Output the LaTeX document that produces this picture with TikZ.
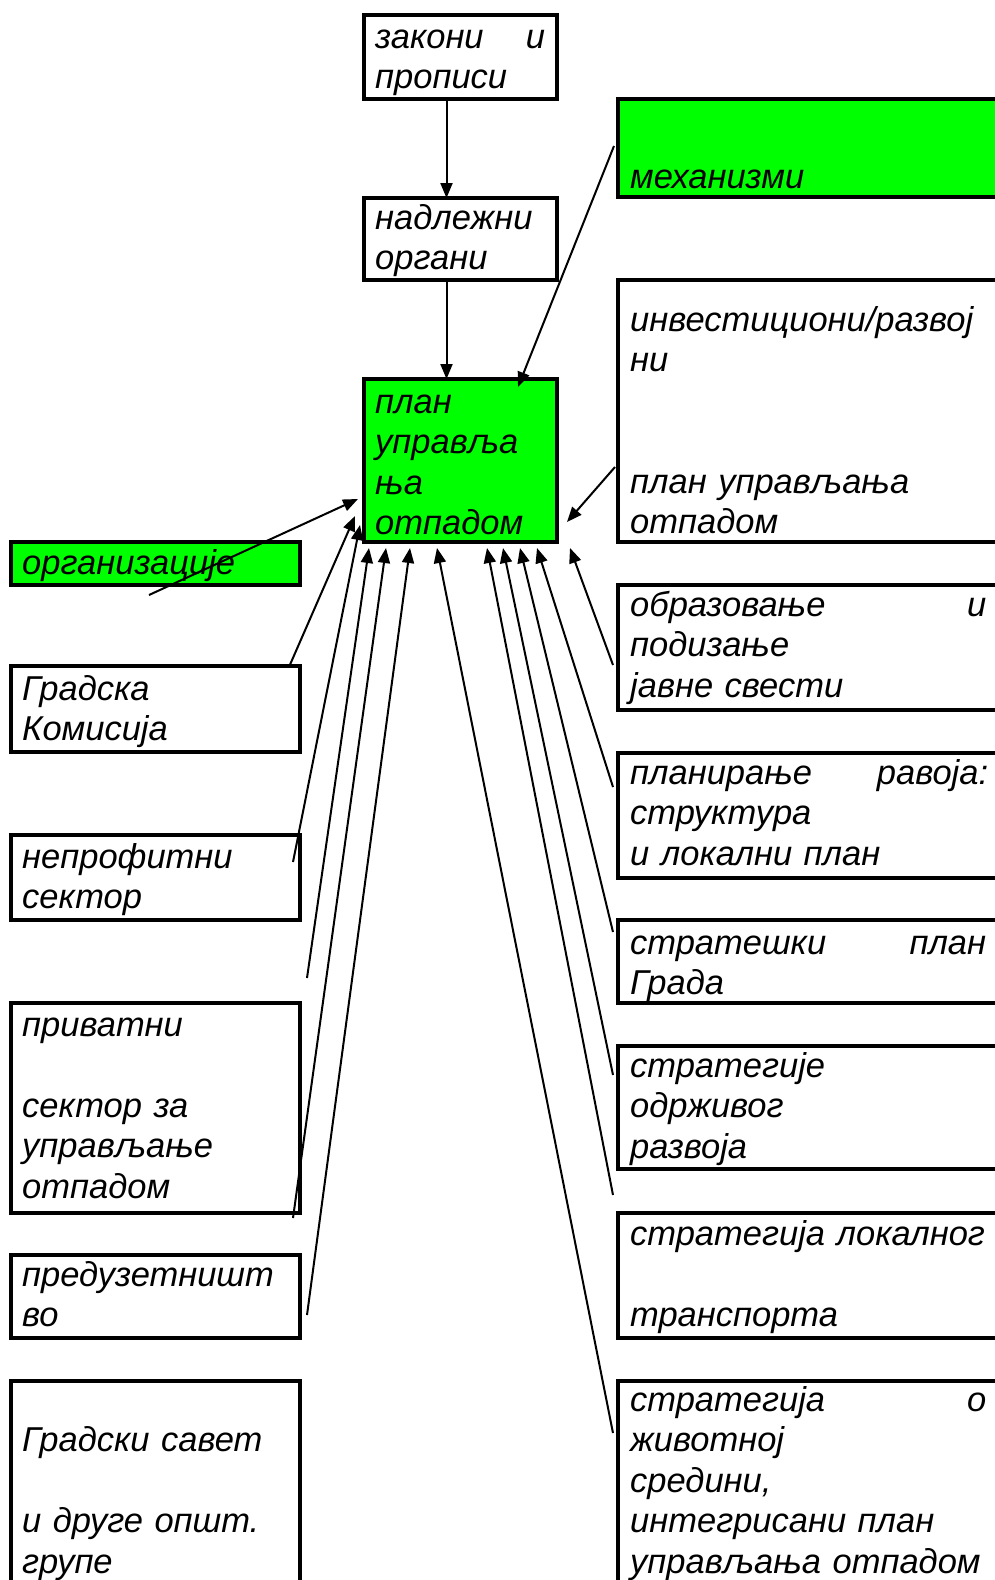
\documentclass[tikz,border=0pt]{standalone}
\usepackage{fontspec}
\setmainfont{Liberation Sans}
\usetikzlibrary{arrows.meta}
\definecolor{boxgreen}{RGB}{0,255,0}
\newcommand{\fl}{\rule{0pt}{30pt}}
\newcommand{\jline}[3]{\hbox to #1{#2\hfill #3}}
\begin{document}
\begin{tikzpicture}[x=1pt,y=-1pt,
  box/.style={draw=black,line width=3.4pt,inner sep=0pt,outer sep=0pt,anchor=north west},
  gbox/.style={box,fill=boxgreen},
  txt/.style={anchor=north west,inner sep=0pt,align=left,font=\fontsize{34.5}{40.5}\selectfont\itshape},
  conn/.style={line width=2pt,-{Triangle[length=15pt,width=12pt]}}]
\useasboundingbox (0,0) rectangle (995,1580);
% boxes: centre column
\node[box,minimum width=193pt,minimum height=84pt] (zak) at (364,15) {};
\node[box,minimum width=193pt,minimum height=82pt] (nad) at (364,198) {};
\node[gbox,minimum width=193pt,minimum height=163pt] (plan) at (364,379) {};
% right column
\node[gbox,minimum width=400pt,minimum height=98pt] (meh) at (618,99) {};
\node[box,minimum width=400pt,minimum height=262pt] (inv) at (618,280) {};
\node[box,minimum width=400pt,minimum height=125pt] (obr) at (618,585) {};
\node[box,minimum width=400pt,minimum height=125pt] (pla) at (618,753) {};
\node[box,minimum width=400pt,minimum height=83pt] (str) at (618,920) {};
\node[box,minimum width=400pt,minimum height=123pt] (odr) at (618,1046) {};
\node[box,minimum width=400pt,minimum height=125pt] (lok) at (618,1213) {};
\node[box,minimum width=400pt,minimum height=230pt] (ziv) at (618,1381) {};
% left column
\node[gbox,minimum width=289pt,minimum height=43pt] (org) at (11,542) {};
\node[box,minimum width=289pt,minimum height=86pt] (gra) at (11,666) {};
\node[box,minimum width=289pt,minimum height=85pt] (nep) at (11,835) {};
\node[box,minimum width=289pt,minimum height=210pt] (pri) at (11,1003) {};
\node[box,minimum width=289pt,minimum height=83pt] (pre) at (11,1255) {};
\node[box,minimum width=289pt,minimum height=230pt] (sav) at (11,1381) {};
% texts
\node[txt,text width=190pt] (tzak) at (375,18) {\fl\jline{170pt}{закони}{и}\\прописи};
\node[txt,text width=190pt] (tnad) at (375,199) {\fl надлежни\\органи};
\node[txt,text width=190pt] (tplan) at (375,383) {\fl план\\управља\\ња\\отпадом};
\node[txt,text width=380pt] (tmeh) at (630,158) {\fl механизми};
\node[txt,text width=380pt] (tinv) at (630,301) {\fl инвестициони/развој\\ни\\\mbox{}\\\mbox{}\\план управљања\\отпадом};
\node[txt,text width=380pt] (tobr) at (630,586) {\fl\jline{356pt}{образовање}{и}\\подизање\\јавне свести};
\node[txt,text width=380pt] (tpla) at (630,754) {\fl\jline{358pt}{планирање}{равоја:}\\структура\\и локални план};
\node[txt,text width=380pt] (tstr) at (630,924) {\fl\jline{356pt}{стратешки}{план}\\Града};
\node[txt,text width=380pt] (todr) at (630,1047) {\fl стратегије\\одрживог\\развоја};
\node[txt,text width=380pt] (tlok) at (630,1215) {\fl стратегија локалног\\\mbox{}\\транспорта};
\node[txt,text width=380pt] (tziv) at (630,1381) {\fl\jline{356pt}{стратегија}{о}\\животној\\средини,\\интегрисани план\\управљања отпадом};
\node[txt,text width=285pt] (torg) at (22,544) {\fl организације};
\node[txt,text width=285pt] (tgra) at (22,670) {\fl Градска\\Комисија};
\node[txt,text width=285pt] (tnep) at (22,838) {\fl непрофитни\\сектор};
\node[txt,text width=285pt] (tpri) at (22,1006) {\fl приватни\\\mbox{}\\сектор за\\управљање\\отпадом};
\node[txt,text width=285pt] (tpre) at (22,1256) {\fl предузетништ\\во};
\node[txt,text width=285pt] (tsav) at (22,1381) {\fl\mbox{}\\Градски савет\\\mbox{}\\и друге општ.\\групе};
% connector end points
\coordinate (cMeh) at (614,146);
\coordinate (cInv) at (615,467);
\coordinate (cOrg) at (149,595);
\coordinate (cGra) at (289,667);
\coordinate (cNep) at (293,862);
\coordinate (cFree) at (307,978);
\coordinate (cPri) at (293,1218);
\coordinate (cPre) at (307,1315);
\coordinate (cZiv) at (613,1433);
\coordinate (cLok) at (613,1195);
\coordinate (cOdr) at (613,1075);
\coordinate (cStr) at (613,932);
\coordinate (cPla) at (613,787);
\coordinate (cObr) at (613,665);
\coordinate (pMeh) at (518,387);
\coordinate (pInv) at (567,522);
\coordinate (pOrg) at (358,499);
\coordinate (pGra) at (355,516);
\coordinate (pNep) at (360,525);
\coordinate (pFree) at (369,548);
\coordinate (pPri) at (386,548);
\coordinate (pPre) at (410,548);
\coordinate (pZiv) at (437,548);
\coordinate (pLok) at (487,548);
\coordinate (pOdr) at (503,548);
\coordinate (pStr) at (520,548);
\coordinate (pPla) at (537,548);
\coordinate (pObr) at (570,548);
% connectors
\draw[conn] (zak.south) ++(-14,0) coordinate (zs) -- (zs |- nad.north);
\draw[conn] (nad.south) ++(-14,0) coordinate (ns) -- (ns |- plan.north);
\draw[conn] (cMeh) -- (pMeh);
\draw[conn] (cInv) -- (pInv);
\draw[conn] (cOrg) -- (pOrg);
\draw[conn] (cGra) -- (pGra);
\draw[conn] (cNep) -- (pNep);
\draw[conn] (cFree) -- (pFree);
\draw[conn] (cPri) -- (pPri);
\draw[conn] (cPre) -- (pPre);
\draw[conn] (cZiv) -- (pZiv);
\draw[conn] (cLok) -- (pLok);
\draw[conn] (cOdr) -- (pOdr);
\draw[conn] (cStr) -- (pStr);
\draw[conn] (cPla) -- (pPla);
\draw[conn] (cObr) -- (pObr);
\end{tikzpicture}
\end{document}
